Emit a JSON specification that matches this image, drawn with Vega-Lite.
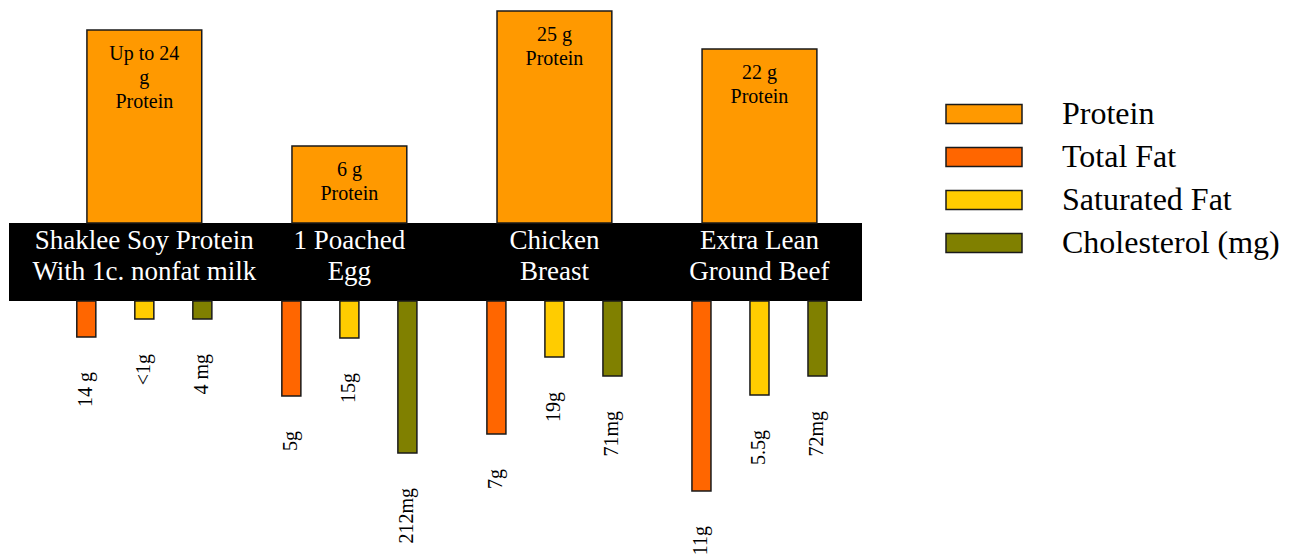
{
  "$schema": "https://vega.github.io/schema/vega-lite/v6.json",
  "width": 853,
  "height": 556,
  "padding": {"left": 9, "top": 0, "right": 0, "bottom": 0},
  "autosize": {"type": "pad"},
  "background": "white",
  "config": {"view": {"stroke": null}, "font": "Liberation Serif", "text": {"font": "Liberation Serif"}, "legend": {"labelFont": "Liberation Serif"}},
  "datasets": {
    "protein": [
      {"food": "Shaklee", "nutrient": "Protein", "size": 193, "label": "Up to 24\ng\nProtein", "name": "Shaklee Soy Protein\nWith 1c. nonfat milk"},
      {"food": "Egg", "nutrient": "Protein", "size": 77, "label": "6 g\nProtein", "name": "1 Poached\nEgg"},
      {"food": "Chicken", "nutrient": "Protein", "size": 212, "label": "25 g\nProtein", "name": "Chicken\nBreast"},
      {"food": "Beef", "nutrient": "Protein", "size": 174, "label": "22 g\nProtein", "name": "Extra Lean\nGround Beef"}
    ],
    "fat": [
      {"food": "Shaklee", "nutrient": "Total Fat", "size": 36, "label": "14 g"},
      {"food": "Shaklee", "nutrient": "Saturated Fat", "size": 18, "label": "<1g"},
      {"food": "Shaklee", "nutrient": "Cholesterol (mg)", "size": 18, "label": "4 mg"},
      {"food": "Egg", "nutrient": "Total Fat", "size": 95, "label": "5g"},
      {"food": "Egg", "nutrient": "Saturated Fat", "size": 37, "label": "15g"},
      {"food": "Egg", "nutrient": "Cholesterol (mg)", "size": 152, "label": "212mg"},
      {"food": "Chicken", "nutrient": "Total Fat", "size": 133, "label": "7g"},
      {"food": "Chicken", "nutrient": "Saturated Fat", "size": 56, "label": "19g"},
      {"food": "Chicken", "nutrient": "Cholesterol (mg)", "size": 75, "label": "71mg"},
      {"food": "Beef", "nutrient": "Total Fat", "size": 190, "label": "11g"},
      {"food": "Beef", "nutrient": "Saturated Fat", "size": 94, "label": "5.5g"},
      {"food": "Beef", "nutrient": "Cholesterol (mg)", "size": 75, "label": "72mg"}
    ]
  },
  "resolve": {"scale": {"y": "independent"}},
  "layer": [
    {
      "layer": [
        {
          "data": {"values": [{"band": "label band"}]},
          "mark": {"type": "rect", "color": "black"},
          "encoding": {
            "y": {"datum": 0, "type": "quantitative", "scale": {"domain": [-333, 223]}, "axis": null},
            "y2": {"datum": -78}
          }
        },
        {
          "data": {"name": "protein"},
          "mark": {"type": "bar", "stroke": "#1a1a1a", "strokeWidth": 1.5, "width": {"band": 0.56}},
          "encoding": {
            "x": {"field": "food", "type": "nominal", "sort": null, "scale": {"type": "band", "paddingInner": 0, "paddingOuter": 0.08, "align": 1}, "axis": null},
            "y": {"field": "size", "type": "quantitative", "scale": {"domain": [-333, 223]}, "axis": null},
            "y2": {"datum": 0},
            "color": {"field": "nutrient", "type": "nominal", "scale": {"domain": ["Protein", "Total Fat", "Saturated Fat", "Cholesterol (mg)"], "range": ["#FF9900", "#FF6600", "#FFCC00", "#808000"]},
              "legend": {"title": null, "orient": "none", "legendX": 955, "legendY": 94, "padding": 0, "symbolType": "M-2,-0.5H2V0.5H-2Z", "symbolSize": 1444, "symbolStrokeColor": "#1a1a1a", "symbolStrokeWidth": 1.5, "symbolOpacity": 1, "labelFontSize": 32, "labelFont": "Liberation Serif", "labelColor": "black", "labelOffset": 58, "rowPadding": 7, "labelLimit": 400}}
          }
        },
        {
          "data": {"name": "protein"},
          "mark": {"type": "text", "font": "Liberation Serif", "baseline": "top", "align": "center", "fontSize": 20, "lineHeight": 24, "lineBreak": "\n", "dy": 14, "color": "black"},
          "encoding": {
            "x": {"field": "food", "type": "nominal", "sort": null, "scale": {"type": "band", "paddingInner": 0, "paddingOuter": 0.08, "align": 1}, "axis": null},
            "y": {"field": "size", "type": "quantitative", "scale": {"domain": [-333, 223]}, "axis": null},
            "text": {"field": "label"}
          }
        },
        {
          "data": {"name": "protein"},
          "mark": {"type": "text", "font": "Liberation Serif", "baseline": "middle", "align": "center", "fontSize": 27, "lineHeight": 31, "lineBreak": "\n", "color": "white"},
          "encoding": {
            "x": {"field": "food", "type": "nominal", "sort": null, "scale": {"type": "band", "paddingInner": 0, "paddingOuter": 0.08, "align": 1}, "axis": null},
            "y": {"datum": -18, "type": "quantitative", "scale": {"domain": [-333, 223]}, "axis": null},
            "text": {"field": "name"}
          }
        }
      ]
    },
    {
      "data": {"name": "fat"},
      "layer": [
        {
          "mark": {"type": "bar", "stroke": "#1a1a1a", "strokeWidth": 1.5},
          "encoding": {
            "x": {"field": "food", "type": "nominal", "sort": null, "scale": {"type": "band", "paddingInner": 0, "paddingOuter": 0.08, "align": 1}, "axis": null},
            "xOffset": {"field": "nutrient", "type": "nominal", "sort": null, "scale": {"domain": ["Total Fat", "Saturated Fat", "Cholesterol (mg)"], "paddingInner": 0.672, "paddingOuter": 0.603}},
            "y": {"field": "size", "type": "quantitative", "scale": {"domain": [-301, 255], "reverse": true}, "axis": null},
            "y2": {"datum": 0},
            "color": {"field": "nutrient", "type": "nominal", "scale": {"domain": ["Protein", "Total Fat", "Saturated Fat", "Cholesterol (mg)"], "range": ["#FF9900", "#FF6600", "#FFCC00", "#808000"]}}
          }
        },
        {
          "mark": {"type": "text", "font": "Liberation Serif", "angle": 270, "align": "right", "baseline": "middle", "fontSize": 20, "dx": -35, "color": "black"},
          "encoding": {
            "x": {"field": "food", "type": "nominal", "sort": null, "scale": {"type": "band", "paddingInner": 0, "paddingOuter": 0.08, "align": 1}, "axis": null},
            "xOffset": {"field": "nutrient", "type": "nominal", "sort": null, "scale": {"domain": ["Total Fat", "Saturated Fat", "Cholesterol (mg)"], "paddingInner": 0.672, "paddingOuter": 0.603}},
            "y": {"field": "size", "type": "quantitative", "scale": {"domain": [-301, 255], "reverse": true}, "axis": null},
            "text": {"field": "label"}
          }
        }
      ]
    }
  ]
}
